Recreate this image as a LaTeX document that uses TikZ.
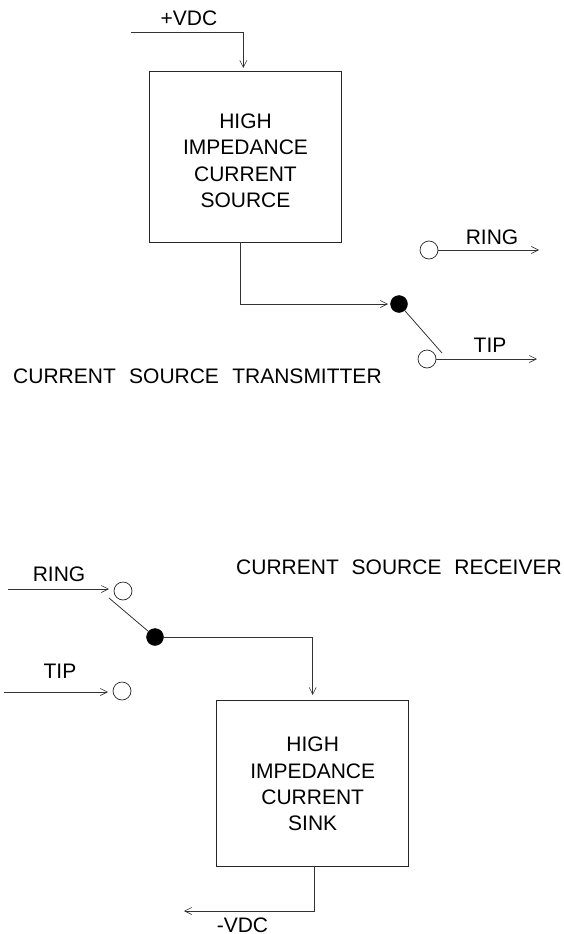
\documentclass[tikz,border=0pt]{standalone}
\usepackage{fontspec}
\setmainfont{Liberation Sans}
\usetikzlibrary{arrows.meta}
\tikzset{
 x=1pt,y=-1pt,
 wire/.style={line width=0.8pt,draw=black!80},
 arr/.style={wire,-{Straight Barb[length=7pt,width=7pt,line width=0.6pt]}},
 block/.style={draw=black!85,line width=0.8pt,inner sep=0pt},
 txt/.style={font=\fontsize{21pt}{24pt}\selectfont,inner sep=0pt,text=black,align=center},
 open/.style={circle,draw=black!85,line width=0.7pt,fill=white,minimum size=18pt,inner sep=0pt},
 closed/.style={circle,draw=black,fill=black,minimum size=17pt,inner sep=0pt},
}
\begin{document}
\begin{tikzpicture}
\useasboundingbox (0,0) rectangle (564,934);
% top
\node[block,minimum width=192pt,minimum height=171pt] (src) at (245.5,156.5) {};
\node[txt] at (245.5,121) {HIGH};
\node[txt] at (245.5,147) {IMPEDANCE};
\node[txt] at (245.5,174) {CURRENT};
\node[txt] at (245.5,200) {SOURCE};
\coordinate (vs) at (131,32);
\coordinate (vc) at (243.3,32);
\coordinate (ve) at (243.3,68);
\draw[arr] (vs) -- (vc) -- (ve);
\node[txt] at (189,18.5) {+VDC};
\node[closed] (sw1) at (399,304) {};
\coordinate (a1) at (240,242);
\coordinate (k) at (240,304);
\coordinate (k2) at (388,304);
\draw[arr] (a1) -- (k) -- (k2);
\node[open] (r1) at (429,250) {};
\node[open] (t1) at (427,359) {};
\coordinate (re) at (539,250);
\coordinate (te) at (537,359);
\coordinate (bl1) at (442,353);
\draw[arr] (r1) -- (re);
\draw[arr] (t1) -- (te);
\draw[wire] (sw1) -- (bl1);
\node[txt] at (492,237) {RING};
\node[txt] at (490,345) {TIP};
\node[txt,anchor=west] at (13,376) {CURRENT\hspace{7.5pt} SOURCE\hspace{7.5pt} TRANSMITTER};
% bottom
\node[txt,anchor=west] at (236,567) {CURRENT\hspace{7pt} SOURCE\hspace{7pt} RECEIVER};
\node[txt] at (59,574) {RING};
\node[txt] at (60,671) {TIP};
\node[open] (r2) at (123,591) {};
\node[open] (t2) at (122,691) {};
\coordinate (rs) at (8,589);
\coordinate (re2) at (109,589);
\coordinate (ts) at (4,692);
\coordinate (te2) at (108,692);
\draw[arr] (rs) -- (re2);
\draw[arr] (ts) -- (te2);
\node[closed] (sw2) at (155,637) {};
\coordinate (bl2) at (109,598);
\draw[wire] (bl2) -- (sw2);
\node[block,minimum width=192pt,minimum height=166pt] (snk) at (312.7,783) {};
\coordinate (c2) at (312.7,637);
\coordinate (c2e) at (312.7,695);
\draw[arr] (sw2) -- (c2) -- (c2e);
\node[txt] at (312.7,744.5) {HIGH};
\node[txt] at (312.7,771) {IMPEDANCE};
\node[txt] at (312.7,797) {CURRENT};
\node[txt] at (312.7,823) {SINK};
\coordinate (c3) at (314,911);
\coordinate (c4) at (184,911);
\draw[arr] (snk.south -| c3) -- (c3) -- (c4);
\node[txt] at (242.5,925.5) {-VDC};
\end{tikzpicture}
\end{document}
